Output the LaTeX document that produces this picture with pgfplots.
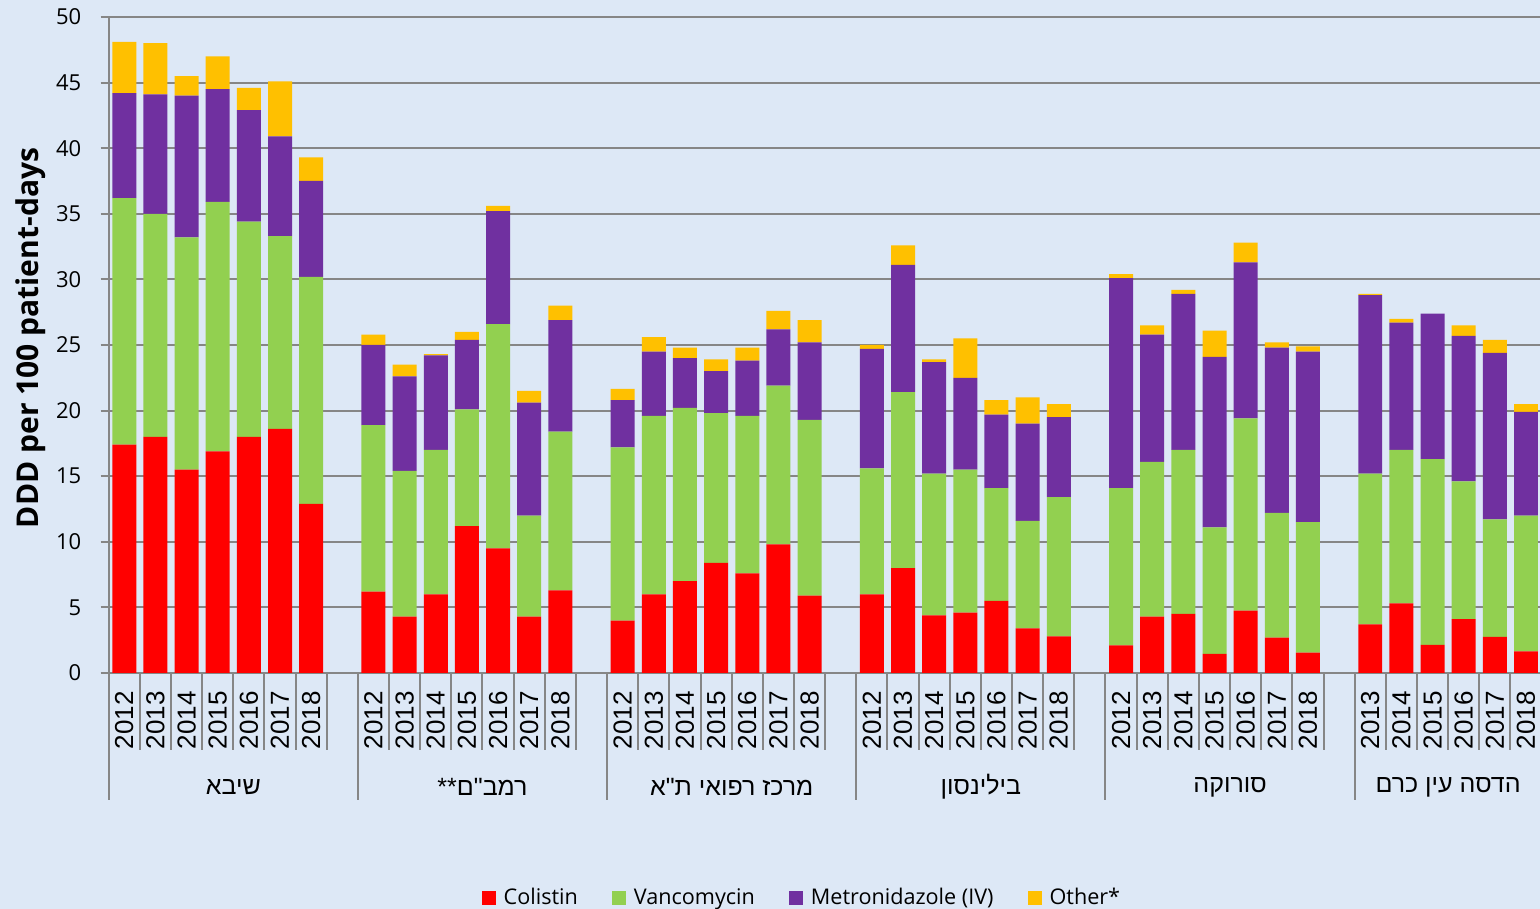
\documentclass[border=0pt]{standalone}
\usepackage{fontspec}
\usepackage{pgfplots}
\pgfplotsset{compat=1.18}
\usepackage{pgfplotstable}
\setmainfont{Liberation Sans}
\newfontfamily\opensans{Open Sans}
\newfontfamily\hebfont[Script=Hebrew]{Liberation Sans}
\TeXXeTstate=1

\definecolor{bg}{RGB}{221,232,246}
\definecolor{cred}{RGB}{255,0,0}
\definecolor{cgreen}{RGB}{146,208,80}
\definecolor{cpurple}{RGB}{112,48,160}
\definecolor{cyellow}{RGB}{255,192,0}
\definecolor{gridg}{RGB}{134,134,134}

\pgfplotsset{sqlegend/.style={legend image code/.code={\fill[##1] (0pt,-3.5pt) rectangle (7pt,3.5pt);}}}

\pgfplotstableread{
x c v m o
0 17.4 18.8 8.0 3.9
1 18.0 17.0 9.1 3.9
2 15.5 17.7 10.8 1.5
3 16.9 19.0 8.6 2.5
4 18.0 16.4 8.5 1.7
5 18.6 14.7 7.6 4.2
6 12.9 17.3 7.3 1.8
8 6.2 12.7 6.1 0.8
9 4.3 11.1 7.2 0.9
10 6.0 11.0 7.2 0.1
11 11.2 8.9 5.3 0.6
12 9.5 17.1 8.6 0.4
13 4.3 7.7 8.6 0.9
14 6.3 12.1 8.5 1.1
16 4.0 13.2 3.6 0.85
17 6.0 13.6 4.9 1.1
18 7.0 13.2 3.8 0.8
19 8.4 11.4 3.2 0.9
20 7.6 12.0 4.2 1.0
21 9.8 12.1 4.3 1.4
22 5.9 13.4 5.9 1.7
24 6.0 9.6 9.1 0.3
25 8.0 13.4 9.7 1.5
26 4.4 10.8 8.5 0.2
27 4.6 10.9 7.0 3.0
28 5.5 8.6 5.6 1.1
29 3.4 8.2 7.4 2.0
30 2.8 10.6 6.1 1.0
32 2.1 12.0 16.0 0.3
33 4.3 11.8 9.7 0.7
34 4.5 12.5 11.9 0.3
35 1.45 9.65 13.0 2.0
36 4.75 14.65 11.9 1.5
37 2.7 9.5 12.6 0.4
38 1.55 9.95 13.0 0.4
40 3.7 11.5 13.6 0.1
41 5.3 11.7 9.7 0.3
42 2.15 14.15 11.1 0.0
43 4.1 10.5 11.1 0.8
44 2.75 8.95 12.7 1.0
45 1.65 10.35 7.9 0.6
}\data

\begin{document}
\begin{tikzpicture}
\path[use as bounding box] (0,0) rectangle (770pt,454.5pt);
\fill[bg] (0,0) rectangle (770pt,454.5pt);
\begin{axis}[
  at={(54.35pt,118pt)}, anchor=south west,
  scale only axis, width=715.65pt, height=328pt,
  ybar stacked, bar width=0.77,
  clip=false,
  xmin=-0.5, xmax=45.45, ymin=0, ymax=50,
  ytick={0,5,...,50},
  xtick=data,
  xticklabels={2012,2013,2014,2015,2016,2017,2018,
               2012,2013,2014,2015,2016,2017,2018,
               2012,2013,2014,2015,2016,2017,2018,
               2012,2013,2014,2015,2016,2017,2018,
               2012,2013,2014,2015,2016,2017,2018,
               2013,2014,2015,2016,2017,2018},
  axis x line*=bottom, axis y line*=left,
  axis line style={gridg, line width=1pt},
  ymajorgrids, grid style={gridg, line width=1pt},
  tick align=outside, major tick length=4pt,
  ytick style={gridg, line width=1pt},
  xtick style={draw=none},
  /pgf/number format/assume math mode=true,
  yticklabel style={font=\opensans\fontsize{11}{11}\selectfont, inner sep=0pt, xshift=-9.5pt},
  xticklabel style={font=\fontsize{13}{13}\selectfont, inner ysep=0pt, inner xsep=5pt, rotate=90, anchor=east},
  ylabel={\opensans\bfseries DDD per 100 patient-days},
  ylabel style={at={(axis description cs:-0.0545,0.5107)}, anchor=center, font=\fontsize{15}{15}\selectfont},
  legend columns=4,
  legend style={at={(0.485,-0.343)}, anchor=center, draw=none, fill=none,
    font=\opensans\fontsize{10.8}{12}\selectfont,
    /tikz/every even column/.append style={column sep=15pt},
    /tikz/every odd column/.append style={column sep=2pt}},
]
\addplot[fill=cred, draw=none, sqlegend] table[x=x,y=c]{\data};
\addlegendentry{Colistin}
\addplot[fill=cgreen, draw=none, sqlegend] table[x=x,y=v]{\data};
\addlegendentry{Vancomycin}
\addplot[fill=cpurple, draw=none, sqlegend] table[x=x,y=m]{\data};
\addlegendentry{Metronidazole (IV)}
\addplot[fill=cyellow, draw=none, sqlegend] table[x=x,y=o]{\data};
\addlegendentry{Other*}

\pgfplotsinvokeforeach{0.5,1.5,2.5,3.5,4.5,5.5,6.5,8.5,9.5,10.5,11.5,12.5,13.5,14.5,16.5,17.5,18.5,19.5,20.5,21.5,22.5,24.5,25.5,26.5,27.5,28.5,29.5,30.5,32.5,33.5,34.5,35.5,36.5,37.5,38.5,40.5,41.5,42.5,43.5,44.5}{
  \draw[gridg, line width=1pt] (axis cs:#1,0) -- ++(0pt,-38.5pt);
}
\pgfplotsinvokeforeach{-0.5,7.5,15.5,23.5,31.5,39.5}{
  \draw[gridg, line width=1pt] (axis cs:#1,0) -- ++(0pt,-63.5pt);
}
\coordinate (g0) at (axis cs:3.5,0);
\coordinate (g1) at (axis cs:11.5,0);
\coordinate (g2) at (axis cs:19.5,0);
\coordinate (g3) at (axis cs:27.5,0);
\coordinate (g4) at (axis cs:35.5,0);
\coordinate (g5) at (axis cs:42.5,0);
\end{axis}
\begin{scope}[every node/.style={font=\hebfont\fontsize{12.5}{14}\selectfont, anchor=center}]
\node at ([yshift=-57pt]g0) {\beginR שיבא\endR};
\node at ([yshift=-57pt]g1) {\beginR רמב"ם**\endR};
\node at ([yshift=-57pt]g2) {\beginR מרכז רפואי ת"א\endR};
\node at ([yshift=-57pt]g3) {\beginR בילינסון\endR};
\node at ([yshift=-57pt]g4) {\beginR סורוקה\endR};
\node at ([yshift=-57pt]g5) {\beginR הדסה עין כרם\endR};
\end{scope}
\end{tikzpicture}
\end{document}
